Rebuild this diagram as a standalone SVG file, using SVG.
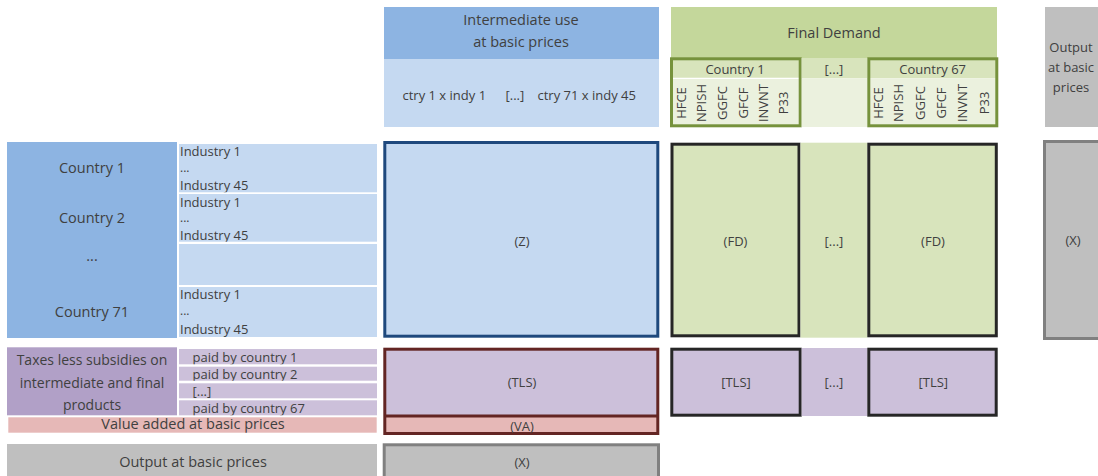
<svg xmlns="http://www.w3.org/2000/svg" width="1098" height="476" viewBox="0 0 1098 476">
<style>
text{font-family:"Open Sans","Noto Sans","Liberation Sans",sans-serif;fill:#404040}
.c{text-anchor:middle}
.t15{font-size:14.5px}
.t14{font-size:14px}
.t13{font-size:13px}
.t12{font-size:13px}
.dots{font-size:12px}
.rot{font-size:13px;text-anchor:middle}
.bz{stroke:#1F497D;stroke-width:3}
.br{stroke:#632523;stroke-width:3}
.bk{stroke:#262626;stroke-width:3}
.bg{stroke:#808080;stroke-width:3}
.bgr{stroke:#76923C;stroke-width:3;fill:none}
</style>
<defs>
<clipPath id="ci1"><rect x="179" y="144" width="198" height="48.3"/></clipPath>
<clipPath id="ci2"><rect x="179" y="194" width="198" height="47.7"/></clipPath>
<clipPath id="ci4"><rect x="179" y="287" width="198" height="50"/></clipPath>
<clipPath id="cp1"><rect x="179" y="349" width="198" height="15.3"/></clipPath>
<clipPath id="cp2"><rect x="179" y="366.7" width="198" height="14"/></clipPath>
<clipPath id="cp3"><rect x="179" y="383.3" width="198" height="15"/></clipPath>
<clipPath id="cp4"><rect x="179" y="400.3" width="198" height="15"/></clipPath>
<clipPath id="cva"><rect x="8" y="417.3" width="369" height="15.4"/></clipPath>
</defs>

<g id="hdr-intermediate">
<rect x="384" y="7" width="275" height="52" fill="#8DB4E2"/>
<rect x="384" y="59" width="275" height="68" fill="#C5D9F1"/>
<text class="c t15" x="521" y="25">Intermediate use</text>
<text class="c t15" x="521" y="46.5">at basic prices</text>
<text class="t13" x="402.5" y="99.5">ctry 1 x indy 1</text>
<text class="t13" x="505.5" y="99.5">[...]</text>
<text class="t13" x="537.5" y="99.5">ctry 71 x indy 45</text>
</g>

<g id="hdr-final-demand">
<rect x="671" y="7" width="326" height="51" fill="#C4D79B"/>
<text class="c t15" x="834" y="38">Final Demand</text>
</g>

<g id="hdr-country1">
<rect x="671.5" y="58.8" width="128.7" height="19.5" fill="#D8E4BC"/>
<rect x="671.5" y="78.3" width="128.7" height="47.5" fill="#EBF1DE"/>
<line x1="672" y1="78.3" x2="800" y2="78.3" stroke="#FFFFFF" stroke-width="1.2"/>
<rect x="671.5" y="58.8" width="128.7" height="67" class="bgr"/>
<text class="c t13" x="735" y="74">Country 1</text>
<text class="rot" x="685.5" y="103" transform="rotate(-90 685.5 103)">HFCE</text>
<text class="rot" x="706" y="103" transform="rotate(-90 706 103)">NPISH</text>
<text class="rot" x="726.5" y="103" transform="rotate(-90 726.5 103)">GGFC</text>
<text class="rot" x="747.5" y="103" transform="rotate(-90 747.5 103)">GFCF</text>
<text class="rot" x="767.5" y="103" transform="rotate(-90 767.5 103)">INVNT</text>
<text class="rot" x="788" y="103" transform="rotate(-90 788 103)">P33</text>
</g>

<g id="hdr-fd-dots">
<rect x="801.7" y="58" width="65.6" height="20.3" fill="#D8E4BC"/>
<rect x="801.7" y="78.3" width="65.6" height="48.7" fill="#EBF1DE"/>
<text class="c t13" x="834" y="74">[...]</text>
</g>

<g id="hdr-country67">
<rect x="868.8" y="58.8" width="128" height="19.5" fill="#D8E4BC"/>
<rect x="868.8" y="78.3" width="128" height="47.5" fill="#EBF1DE"/>
<rect x="868.8" y="58.8" width="128" height="67" class="bgr"/>
<text class="c t13" x="932.7" y="74">Country 67</text>
<text class="rot" x="882.5" y="103" transform="rotate(-90 882.5 103)">HFCE</text>
<text class="rot" x="903" y="103" transform="rotate(-90 903 103)">NPISH</text>
<text class="rot" x="924.5" y="103" transform="rotate(-90 924.5 103)">GGFC</text>
<text class="rot" x="945.5" y="103" transform="rotate(-90 945.5 103)">GFCF</text>
<text class="rot" x="967" y="103" transform="rotate(-90 967 103)">INVNT</text>
<text class="rot" x="988.5" y="103" transform="rotate(-90 988.5 103)">P33</text>
</g>

<g id="hdr-output">
<rect x="1045" y="7" width="53" height="120" fill="#BFBFBF"/>
<text class="c t13" x="1071" y="52">Output</text>
<text class="c t13" x="1071" y="72">at basic</text>
<text class="c t13" x="1071" y="92">prices</text>
</g>

<g id="row-countries">
<rect x="7" y="142" width="170" height="196" fill="#8DB4E2"/>
<text class="c t15" x="92" y="173">Country 1</text>
<text class="c t15" x="92" y="223">Country 2</text>
<text class="c t15" x="92" y="261">...</text>
<text class="c t15" x="92" y="317">Country 71</text>
</g>

<g id="row-industries">
<rect x="179" y="144" width="198" height="48.3" fill="#C5D9F1"/>
<rect x="179" y="194" width="198" height="47.7" fill="#C5D9F1"/>
<rect x="179" y="244" width="198" height="41" fill="#C5D9F1"/>
<rect x="179" y="287" width="198" height="50" fill="#C5D9F1"/>
<g clip-path="url(#ci1)">
<text class="t13" x="180" y="156">Industry 1</text>
<text class="dots" x="180" y="172">...</text>
<text class="t13" x="180" y="189.5">Industry 45</text>
</g>
<g clip-path="url(#ci2)">
<text class="t13" x="180" y="206.5">Industry 1</text>
<text class="dots" x="180" y="222">...</text>
<text class="t13" x="180" y="239.5">Industry 45</text>
</g>
<g clip-path="url(#ci4)">
<text class="t13" x="180" y="299">Industry 1</text>
<text class="dots" x="180" y="315">...</text>
<text class="t13" x="180" y="333.5">Industry 45</text>
</g>
</g>

<g id="cell-Z">
<rect x="384.8" y="142.5" width="273" height="193.7" fill="#C5D9F1" class="bz"/>
<text class="c t12" x="522" y="245.5">(Z)</text>
</g>

<g id="cell-FD1">
<rect x="672" y="144.2" width="127" height="191.6" fill="#D8E4BC" class="bk"/>
<text class="c t12" x="735.5" y="245.5">(FD)</text>
</g>
<g id="cell-FD-dots">
<rect x="800.5" y="142.7" width="66.8" height="195" fill="#D8E4BC"/>
<text class="c t12" x="834" y="245.5">[...]</text>
</g>
<g id="cell-FD67">
<rect x="868.8" y="144.2" width="127.5" height="191.6" fill="#D8E4BC" class="bk"/>
<text class="c t12" x="933" y="245.5">(FD)</text>
</g>

<g id="cell-X-right">
<rect x="1044.5" y="141.5" width="60" height="197" fill="#BFBFBF" class="bg"/>
<text class="c t12" x="1073" y="244.5">(X)</text>
</g>

<g id="row-taxes">
<rect x="7" y="347.3" width="170" height="68" fill="#B1A0C7"/>
<text class="c t14" x="92" y="365">Taxes less subsidies on</text>
<text class="c t14" x="92" y="387.5">intermediate and final</text>
<text class="c t14" x="92" y="409.5">products</text>
</g>

<g id="row-paid">
<rect x="179" y="349" width="198" height="15.3" fill="#CCC0DA"/>
<rect x="179" y="366.7" width="198" height="14" fill="#CCC0DA"/>
<rect x="179" y="383.3" width="198" height="15" fill="#CCC0DA"/>
<rect x="179" y="400.3" width="198" height="15" fill="#CCC0DA"/>
<text class="t13" x="192.5" y="362" clip-path="url(#cp1)">paid by country 1</text>
<text class="t13" x="192.5" y="378.5" clip-path="url(#cp2)">paid by country 2</text>
<text class="t13" x="192.5" y="395.5" clip-path="url(#cp3)">[...]</text>
<text class="t13" x="192.5" y="412.5" clip-path="url(#cp4)">paid by country 67</text>
</g>

<g id="row-va">
<rect x="8.3" y="417.3" width="368.4" height="15.4" fill="#E6B8B7"/>
<text class="c t15" x="193" y="428.5" clip-path="url(#cva)">Value added at basic prices</text>
</g>

<g id="cell-TLS">
<rect x="384.8" y="416" width="273" height="17.5" fill="#E6B8B7"/>
<rect x="384.8" y="349.2" width="273" height="66.8" fill="#CCC0DA"/>
<rect x="384.8" y="349.2" width="273" height="84.3" fill="none" class="br"/>
<line x1="384.8" y1="416" x2="657.8" y2="416" class="br"/>
<text class="c t12" x="522" y="387">(TLS)</text>
<text class="c t12" x="522" y="431">(VA)</text>
</g>

<g id="cell-TLS1">
<rect x="671.8" y="349.2" width="128.4" height="66" fill="#CCC0DA" class="bk"/>
<text class="c t12" x="736" y="387">[TLS]</text>
</g>
<g id="cell-TLS-dots">
<rect x="801.7" y="348" width="65.6" height="68" fill="#CCC0DA"/>
<text class="c t12" x="834" y="387">[...]</text>
</g>
<g id="cell-TLS67">
<rect x="868.8" y="349.2" width="127.4" height="66" fill="#CCC0DA" class="bk"/>
<text class="c t12" x="933.3" y="387">[TLS]</text>
</g>

<g id="row-output">
<rect x="7" y="444" width="370" height="40" fill="#BFBFBF"/>
<text class="c t15" x="193" y="467">Output at basic prices</text>
</g>

<g id="cell-X-bottom">
<rect x="384.2" y="444.8" width="274.3" height="40" fill="#BFBFBF" class="bg"/>
<text class="c t12" x="522" y="467">(X)</text>
</g>

<g id="connectors"/>
</svg>
